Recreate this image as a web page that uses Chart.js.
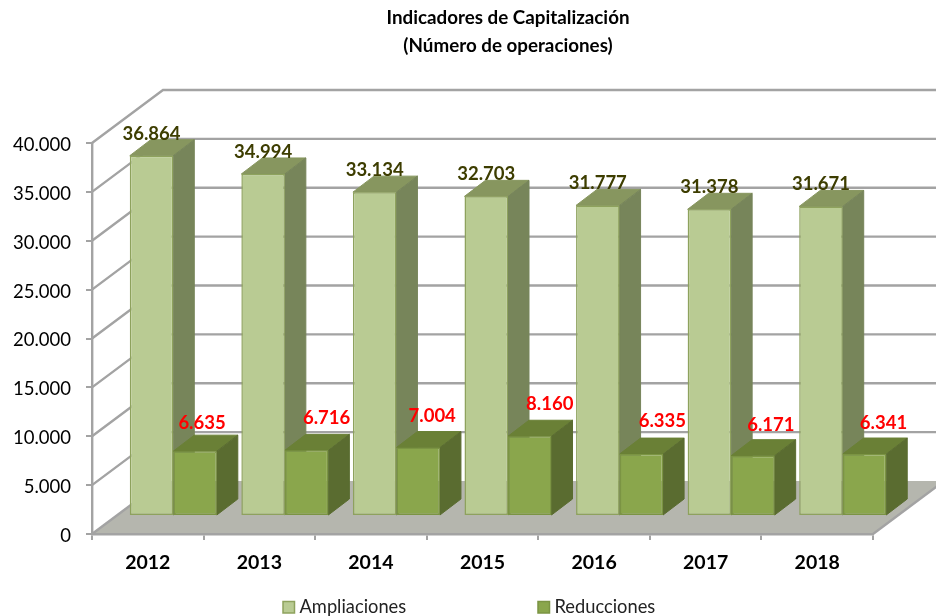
<!DOCTYPE html>
<html><head><meta charset="utf-8">
<style>html,body{margin:0;padding:0;background:#fff}canvas{display:block}</style>
<script src="https://cdn.jsdelivr.net/npm/chart.js@4"></script>
</head><body><canvas id="c" width="936" height="616"></canvas>
<script>
const categories = ['2012','2013','2014','2015','2016','2017','2018'];
const ampliaciones = [36864,34994,33134,32703,31777,31378,31671];
const reducciones = [6635,6716,7004,8160,6335,6171,6341];
const titleLines = ['Indicadores de Capitalización','(Número de operaciones)'];
const seriesNames = ['Ampliaciones','Reducciones'];

const FONT = 'Lato, Carlito, sans-serif';
const fmt = v => String(v).replace(/\B(?=(\d{3})+$)/g,'.');
const WALL = {dx:71, dy:-53};
const BAR = {dx:25.5, dy:-18, depthX:21, depthY:-16};
const GRID = '#a3a3a3';
const look = [
  {front:'#b9cb93', edge:'#8ea25d', top:'#87965f', side:'#77855a', label:'#3d3d00'},
  {front:'#8aa64c', edge:'#7b9443', top:'#6a8036', side:'#5a6c30', label:'#ff0000'}
];
const redNudge = [[7,-28],[20,-32],[14,-32],[20,-32],[21,-33],[18,-31],[19,-31]];

const scene = {
  id:'scene',
  afterLayout(chart){ chart.titleBlock.left = 80; chart.titleBlock.right = 936; },
  beforeDraw(chart){
    const {ctx, scales:{y}, chartArea:a} = chart;
    const y0 = y.getPixelForValue(0);
    ctx.save();
    ctx.fillStyle = '#b5b6ae';
    ctx.beginPath();
    ctx.moveTo(a.left,y0); ctx.lineTo(a.right,y0);
    ctx.lineTo(a.right+WALL.dx,y0+WALL.dy); ctx.lineTo(a.left+WALL.dx,y0+WALL.dy);
    ctx.closePath(); ctx.fill();
    ctx.strokeStyle = GRID; ctx.lineWidth = 2.4;
    y.ticks.forEach(t=>{
      const p = y.getPixelForValue(t.value);
      ctx.beginPath();
      ctx.moveTo(a.left,p); ctx.lineTo(a.left+WALL.dx,p+WALL.dy);
      if (t.value>0) ctx.lineTo(936,p+WALL.dy);
      ctx.stroke();
    });
    ctx.beginPath();
    ctx.moveTo(a.right,y0); ctx.lineTo(a.right+WALL.dx,y0+WALL.dy); ctx.stroke();
    ctx.restore();
  },
  beforeDatasetsDraw(chart){
    const {ctx} = chart;
    ctx.save();
    ctx.translate(BAR.dx,BAR.dy);
    chart.data.datasets.forEach((ds,i)=>{
      const c = look[i];
      chart.getDatasetMeta(i).data.forEach(el=>{
        const {x,y,base,width} = el.getProps(['x','y','base','width'],true);
        const l=x-width/2, r=x+width/2, dx=BAR.depthX, dy=BAR.depthY;
        ctx.lineWidth=1; ctx.strokeStyle=c.top; ctx.fillStyle=c.top;
        ctx.beginPath(); ctx.moveTo(l,y); ctx.lineTo(l+dx,y+dy); ctx.lineTo(r+dx,y+dy); ctx.lineTo(r,y); ctx.closePath(); ctx.fill(); ctx.stroke();
        ctx.strokeStyle=c.side; ctx.fillStyle=c.side;
        ctx.beginPath(); ctx.moveTo(r,y); ctx.lineTo(r+dx,y+dy); ctx.lineTo(r+dx,base+dy); ctx.lineTo(r,base); ctx.closePath(); ctx.fill(); ctx.stroke();
      });
    });
  },
  afterDatasetsDraw(chart){
    const {ctx} = chart;
    ctx.restore();
    ctx.save();
    ctx.font = 'bold 18.5px '+FONT;
    ctx.textAlign='center'; ctx.textBaseline='middle';
    chart.data.datasets.forEach((ds,i)=>{
      ctx.fillStyle = look[i].label;
      chart.getDatasetMeta(i).data.forEach((el,k)=>{
        const {x,y} = el.getProps(['x','y'],true);
        const n = i===0 ? [0,-22] : redNudge[k];
        ctx.fillText(fmt(ds.data[k]), x+BAR.dx+n[0], y+BAR.dy+n[1]);
      });
    });
    // legend
    ctx.font = '18.3px '+FONT; ctx.textAlign='left';
    [283,538].forEach((lx,i)=>{
      ctx.fillStyle=look[i].front; ctx.strokeStyle=look[i].edge; ctx.lineWidth=1.5;
      ctx.fillRect(lx,601.5,11.5,11.5); ctx.strokeRect(lx,601.5,11.5,11.5);
      ctx.fillStyle='#222';
      ctx.fillText(seriesNames[i], lx+16.5, 607);
    });
    ctx.restore();
  }
};

new Chart(document.getElementById('c'),{
  type:'bar',
  data:{labels:categories,datasets:[
    {label:seriesNames[0],data:ampliaciones,backgroundColor:look[0].front,borderColor:look[0].edge,borderWidth:1.5,borderSkipped:false},
    {label:seriesNames[1],data:reducciones,backgroundColor:look[1].front,borderColor:look[1].edge,borderWidth:1.5,borderSkipped:false}
  ]},
  plugins:[scene],
  options:{
    responsive:false, animation:false, clip:false,
    categoryPercentage:0.78, barPercentage:1,
    layout:{padding:{left:0,right:63,top:0,bottom:0}},
    plugins:{
      legend:{display:false}, tooltip:{enabled:false},
      title:{display:true,text:titleLines,color:'#000',font:{family:FONT,weight:'bold',size:18.8,lineHeight:1.49},padding:{top:4,bottom:83}}
    },
    scales:{
      x:{
        afterFit(s){s.height=82;},
        grid:{drawOnChartArea:false,color:GRID,lineWidth:2,tickLength:6,offset:true},
        border:{color:GRID,width:2.4},
        ticks:{color:'#000',padding:11,font:{family:FONT,weight:'bold',size:19.5},maxRotation:0}
      },
      y:{
        min:0,max:40000,
        afterFit(s){s.width=92;},
        grid:{drawOnChartArea:false,color:GRID,lineWidth:2,tickLength:6},
        border:{color:GRID,width:2.4},
        ticks:{stepSize:5000,color:'#000',padding:15,labelOffset:2,font:{family:FONT,size:18.5},callback:v=>fmt(v)}
      }
    }
  }
});
</script></body></html>
